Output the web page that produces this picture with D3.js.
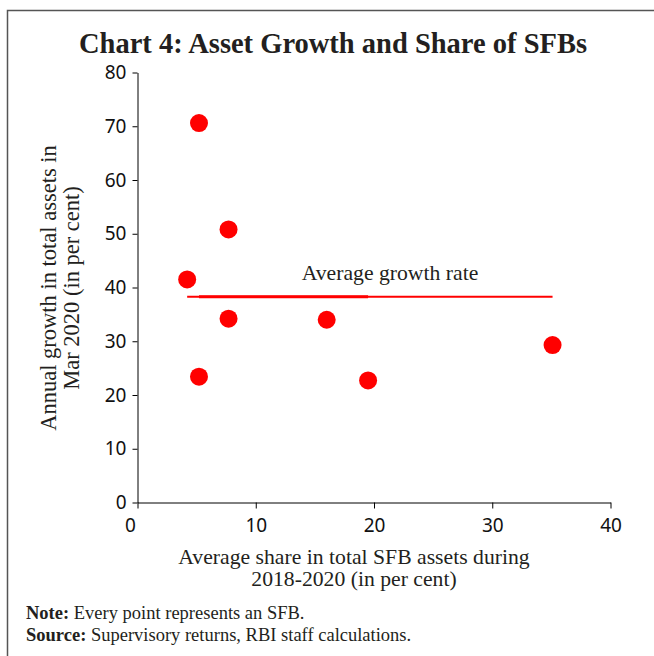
<!DOCTYPE html>
<html>
<head>
<meta charset="utf-8">
<script src="https://cdn.jsdelivr.net/npm/d3@7"></script>
<style>
  body { margin: 0; background: #fff; }
  svg { display: block; }
</style>
</head>
<body>
<script>
// share in total SFB assets (x) and annual asset growth (y), one per SFB
const share  = [5.2, 7.7, 4.2, 7.7, 16.0, 5.2, 19.5, 35.1]
const growth = [70.6, 50.8, 41.5, 34.2, 34.0, 23.4, 22.7, 29.3]
const avgGrowth = 38.3
const xTicks = [0, 10, 20, 30, 40]
const yTicks = [0, 10, 20, 30, 40, 50, 60, 70, 80]

const W = 654, H = 656
const serif = "'Liberation Serif', 'DejaVu Serif', serif"
const sans  = "'Noto Sans', 'DejaVu Sans', sans-serif"
const ink = '#231f20'

const svg = d3.select('body').append('svg')
    .attr('width', W).attr('height', H)

// frame (only top and left edges are in view)
svg.append('path')
    .attr('d', `M7.5,${H} V10.5 H${W}`)
    .attr('fill', 'none')
    .attr('stroke', '#555')
    .attr('stroke-width', 1.5)

svg.append('text')
    .attr('x', 333).attr('y', 53)
    .attr('text-anchor', 'middle')
    .style('font-family', serif)
    .style('font-weight', 'bold')
    .style('font-size', '28.5px')
    .attr('fill', ink)
    .text('Chart 4: Asset Growth and Share of SFBs')

const x = d3.scaleLinear().domain([0, 40]).range([137.5, 610.5])
const y = d3.scaleLinear().domain([0, 80]).range([502.5, 72.5])

const xAxis = svg.append('g')
    .attr('transform', `translate(0,${y(0)})`)
    .call(d3.axisBottom(x).tickValues(xTicks).tickSize(6).tickPadding(10).tickSizeOuter(0))
const yAxis = svg.append('g')
    .attr('transform', `translate(${x(0)},0)`)
    .call(d3.axisLeft(y).tickValues(yTicks).tickSize(5).tickPadding(6).tickSizeOuter(0))

for (const ax of [xAxis, yAxis]) {
  ax.select('.domain').attr('stroke', '#000')
  ax.selectAll('.tick line').attr('stroke', '#000')
  ax.selectAll('.tick text')
    .style('font-family', sans)
    .style('font-size', '19px')
    .attr('fill', '#111')
}
xAxis.selectAll('.tick text').filter(d => d === 0).attr('dx', '-0.4em')

// axis titles
svg.append('text')
    .attr('text-anchor', 'middle')
    .style('font-family', serif).style('font-size', '21.7px').attr('fill', ink)
    .selectAll('tspan')
    .data(['Average share in total SFB assets during', '2018-2020 (in per cent)'])
    .join('tspan')
    .attr('x', 354)
    .attr('y', (d, i) => 564 + i * 22)
    .text(d => d)

svg.append('text')
    .attr('text-anchor', 'middle')
    .attr('transform', 'translate(0,288) rotate(-90)')
    .style('font-family', serif).style('font-size', '22.5px').attr('fill', ink)
    .selectAll('tspan')
    .data(['Annual growth in total assets in', 'Mar 2020 (in per cent)'])
    .join('tspan')
    .attr('x', 0)
    .attr('y', (d, i) => 56 + i * 23)
    .text(d => d)

// average growth line across the range of points
const xMin = d3.min(share), xMax = d3.max(share)
svg.append('line')
    .attr('x1', x(xMin)).attr('x2', x(xMax))
    .attr('y1', y(avgGrowth)).attr('y2', y(avgGrowth))
    .attr('stroke', '#f00').attr('stroke-width', 2)
svg.append('line')
    .attr('x1', x(5.2)).attr('x2', x(19.5))
    .attr('y1', y(avgGrowth)).attr('y2', y(avgGrowth))
    .attr('stroke', '#f00').attr('stroke-width', 3)

svg.append('text')
    .attr('x', 390).attr('y', 280)
    .attr('text-anchor', 'middle')
    .style('font-family', serif).style('font-size', '21.7px').attr('fill', ink)
    .text('Average growth rate')

svg.append('g').selectAll('circle')
    .data(d3.range(share.length))
    .join('circle')
    .attr('cx', i => x(share[i]))
    .attr('cy', i => y(growth[i]))
    .attr('r', 9)
    .attr('fill', '#f00')

// footnotes
const notes = [['Note:', ' Every point represents an SFB.'],
               ['Source:', ' Supervisory returns, RBI staff calculations.']]
svg.append('g').selectAll('text')
    .data(notes)
    .join('text')
    .attr('x', 26)
    .attr('y', (d, i) => 619 + i * 22)
    .style('font-family', serif).style('font-size', '18.5px').attr('fill', ink)
    .each(function (d) {
      const t = d3.select(this)
      t.append('tspan').style('font-weight', 'bold').text(d[0])
      t.append('tspan').text(d[1])
    })
</script>
</body>
</html>
